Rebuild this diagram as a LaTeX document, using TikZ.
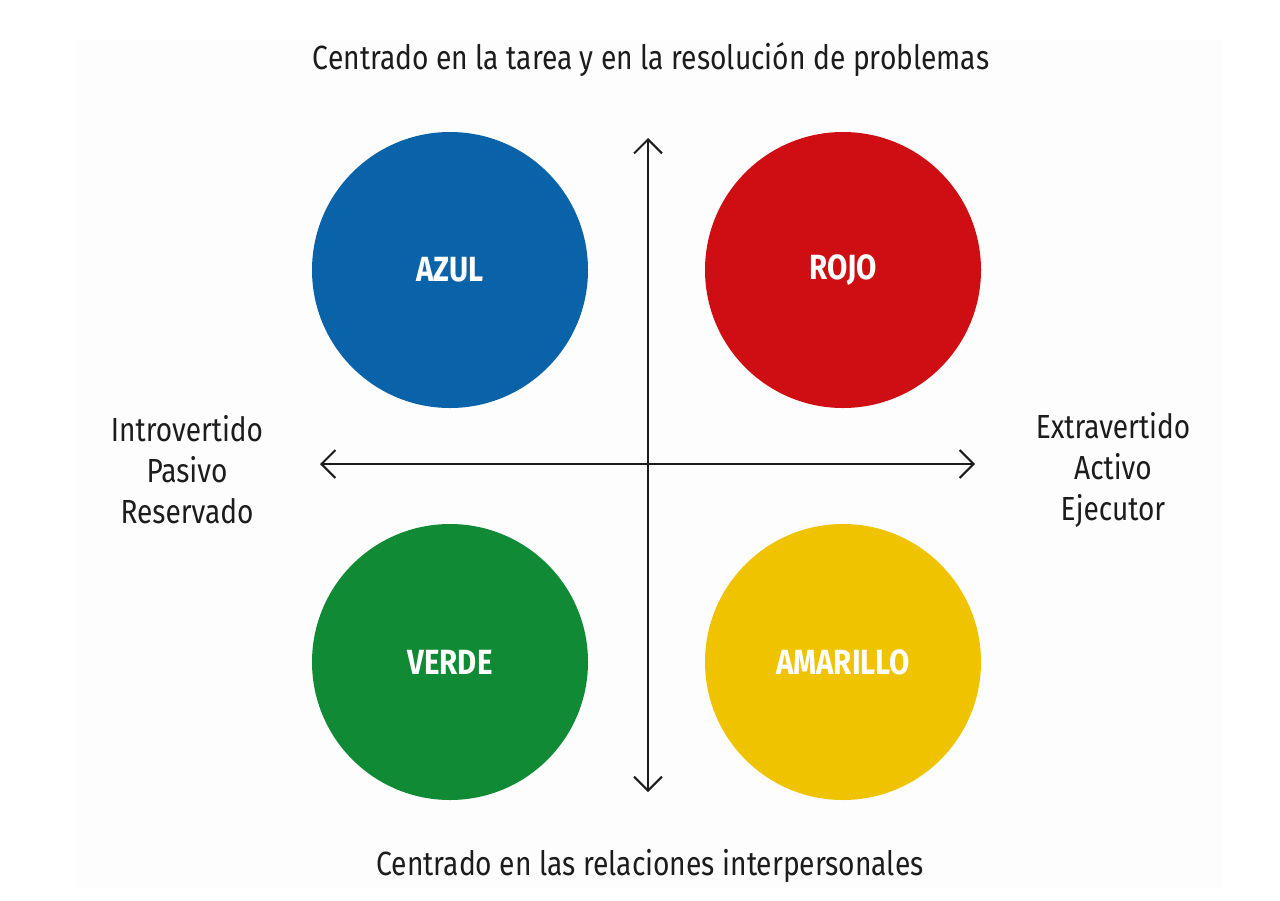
\documentclass[tikz,border=0pt]{standalone}
\usepackage{fontspec}
\setmainfont[FakeStretch=0.84]{Fira Sans}
\usepackage{tikz}
\usetikzlibrary{arrows.meta,positioning}
\definecolor{ink}{RGB}{28,28,28}
\definecolor{paper}{RGB}{253,253,253}
\definecolor{cAzul}{RGB}{10,98,168}
\definecolor{cRojo}{RGB}{206,14,18}
\definecolor{cVerde}{RGB}{16,138,52}
\definecolor{cAmarillo}{RGB}{240,195,0}
\tikzset{
  quad/.style={circle,minimum size=138pt,inner sep=0pt,text=white,
    font=\fontsize{17.5}{20}\selectfont\bfseries},
  axis/.style={{Straight Barb[length=7pt,width=14pt,line width=1pt]}-{Straight Barb[length=7pt,width=14pt,line width=1pt]},
    line width=1pt,ink},
  side/.style={text=ink,align=center,font=\fontsize{16.7}{20.5}\selectfont},
  head/.style={text=ink,font=\fontsize{16.8}{20}\selectfont},
}

\begin{document}
\begin{tikzpicture}[x=0.5pt,y=-0.5pt]
  \useasboundingbox (0,0) rectangle (1280,900);
  \fill[paper] (76,40) rectangle (1222,888);
  % quadrants
  \node[quad,fill=cAzul] (azul) at (450,270) {AZUL};
  \node[quad,fill=cRojo] (rojo) at (843,270) {ROJO};
  \node[quad,fill=cVerde] (verde) at (450,662) {VERDE};
  \node[quad,fill=cAmarillo] (amarillo) at (843,662) {AMARILLO};
  % axes
  \coordinate (top) at (648,138);
  \coordinate (bot) at (648,792);
  \coordinate (lft) at (320,464);
  \coordinate (rgt) at (975,464);
  \draw[axis] (bot) -- (top);
  \draw[axis] (lft) -- (rgt);
  % labels
  \node[head] (tarea) at (651,60) {Centrado en la tarea y en la resolución de problemas};
  \node[head] (relac) at (650,866) {Centrado en las relaciones interpersonales};
  \node[side] (intro) at (187,470) {Introvertido\\Pasivo\\Reservado};
  \node[side] (extra) at (1113,470) {Extravertido\\Activo\\Ejecutor};
\end{tikzpicture}
\end{document}
